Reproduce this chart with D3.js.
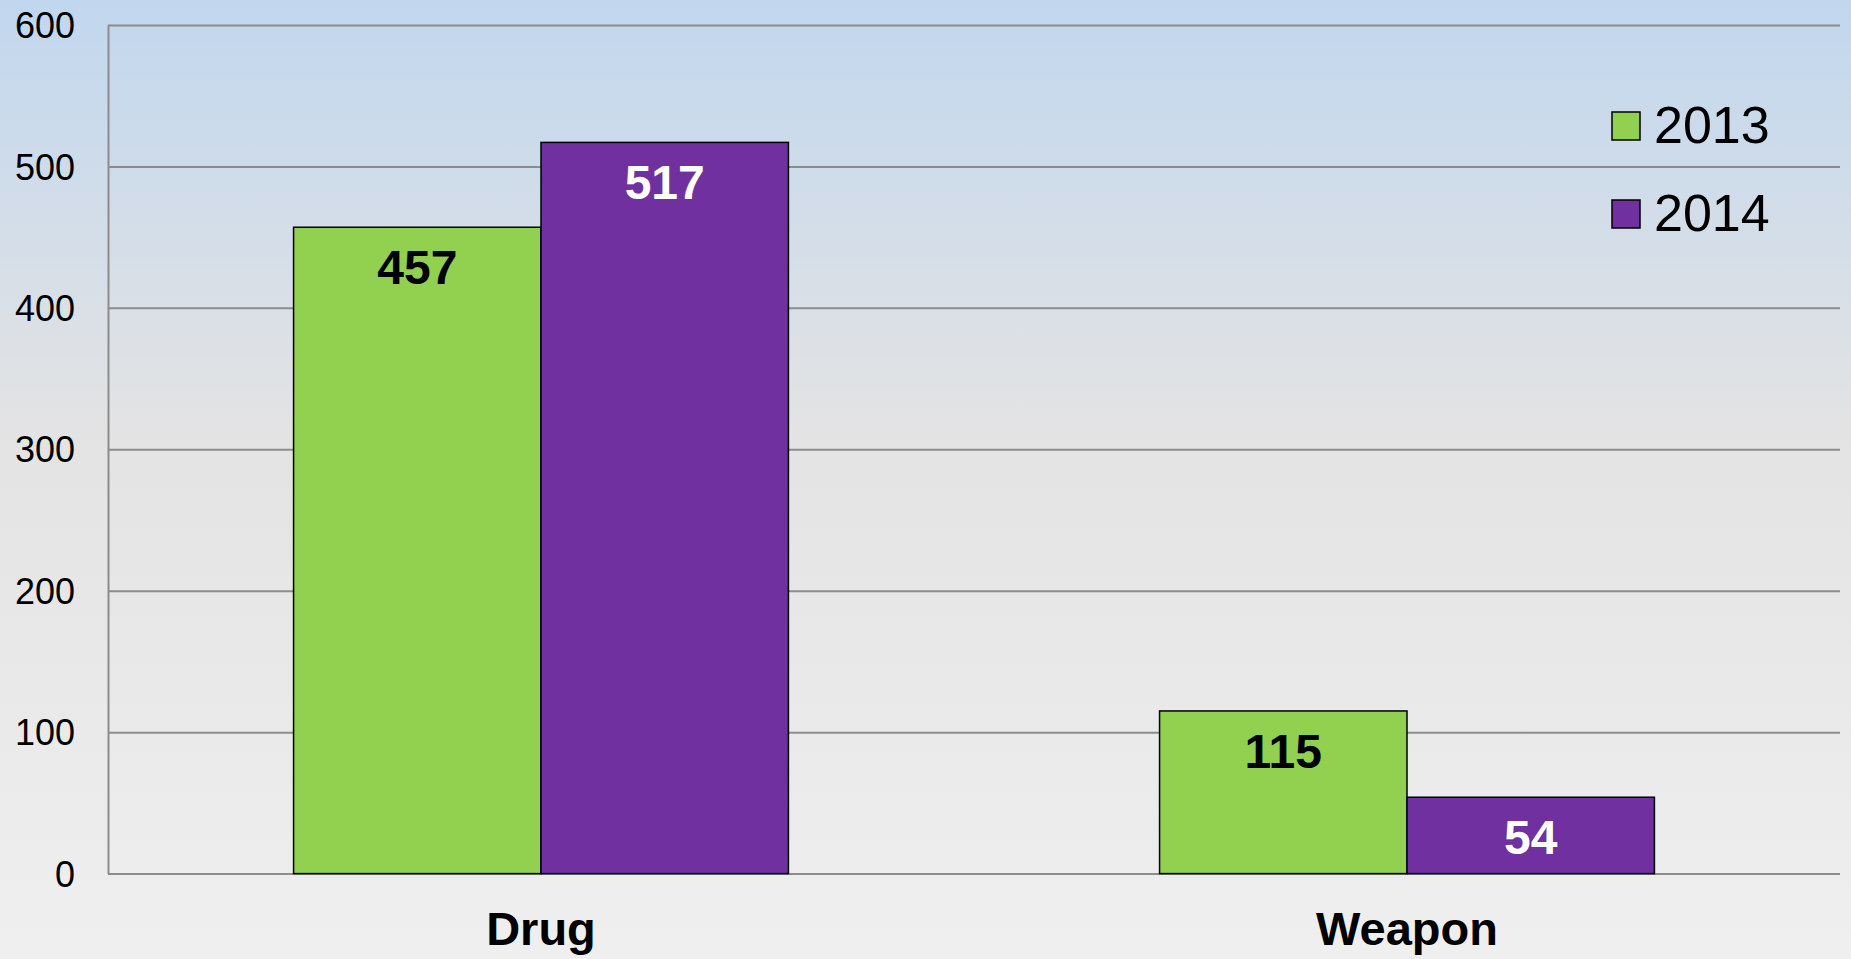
<!DOCTYPE html>
<html>
<head>
<meta charset="utf-8">
<script src="https://cdn.jsdelivr.net/npm/d3@7"></script>
<style>
  html, body { margin: 0; padding: 0; overflow: hidden; }
  svg { display: block; font-family: Arial, "Liberation Sans", sans-serif; }
</style>
</head>
<body>
<svg id="chart" width="1851" height="959"></svg>
<script>
const categories = ["Drug", "Weapon"];
const seriesNames = ["2013", "2014"];
const values2013 = [457, 115];
const values2014 = [517, 54];
const yTicks = [0, 100, 200, 300, 400, 500, 600];

const seriesColors = ["#92d050", "#7030a0"];
const labelColors = ["#000000", "#ffffff"];

const W = 1851, H = 959;
const margin = { left: 108, right: 11, top: 25, bottom: 85 };
const svg = d3.select("#chart");

const defs = svg.append("defs");
const grad = defs.append("linearGradient").attr("id", "bg").attr("x1", 0).attr("y1", 0).attr("x2", 0).attr("y2", 1);
grad.append("stop").attr("offset", "0%").attr("stop-color", "#c1d7ee");
grad.append("stop").attr("offset", "45%").attr("stop-color", "#e3e3e3");
grad.append("stop").attr("offset", "100%").attr("stop-color", "#efefef");
svg.append("rect").attr("width", W).attr("height", H).attr("fill", "url(#bg)");

const x0 = d3.scaleBand().domain(categories).range([margin.left, W - margin.right]).paddingInner(0).paddingOuter(0);
const x1 = d3.scaleBand().domain(seriesNames).range([0, x0.bandwidth()]).paddingInner(0).paddingOuter(0.75);
const y = d3.scaleLinear().domain([0, 600]).range([H - margin.bottom - 0.4, margin.top]);

// gridlines
const grid = svg.append("g").attr("class", "grid")
  .attr("transform", `translate(${margin.left},0)`)
  .call(d3.axisLeft(y).tickValues(yTicks).tickSize(-(W - margin.right - margin.left)).tickFormat(""));
grid.select(".domain").remove();
grid.selectAll("line").attr("stroke", "#8c8c8c").attr("stroke-width", 2);

// y axis
const yAxis = svg.append("g").attr("transform", `translate(${margin.left},0)`)
  .call(d3.axisLeft(y).tickValues(yTicks).tickSize(0).tickPadding(33));
yAxis.select(".domain").attr("stroke", "#8c8c8c").attr("stroke-width", 2);
yAxis.selectAll("text").attr("font-size", 36).attr("fill", "#000").attr("font-family", "Arial, 'Liberation Sans', sans-serif").attr("dy", "0.35em");

// data
const data = categories.map((c, i) => ({ cat: c, vals: [values2013[i], values2014[i]] }));

const groups = svg.append("g").selectAll("g").data(data).join("g")
  .attr("transform", d => `translate(${x0(d.cat)},0)`);

groups.selectAll("rect").data(d => d.vals.map((v, j) => ({ s: seriesNames[j], v, j })))
  .join("rect")
  .attr("x", d => x1(d.s))
  .attr("y", d => y(d.v))
  .attr("width", x1.bandwidth())
  .attr("height", d => y(0) - y(d.v))
  .attr("fill", d => seriesColors[d.j])
  .attr("stroke", "#000")
  .attr("stroke-width", 1.5);

groups.selectAll("text.val").data(d => d.vals.map((v, j) => ({ s: seriesNames[j], v, j })))
  .join("text")
  .attr("class", "val")
  .attr("x", d => x1(d.s) + x1.bandwidth() / 2)
  .attr("y", d => y(d.v) + 57)
  .attr("text-anchor", "middle")
  .attr("font-size", 48)
  .attr("font-weight", "bold")
  .attr("fill", d => labelColors[d.j])
  .text(d => d.v);

// x category labels
svg.append("g").selectAll("text").data(categories).join("text")
  .attr("x", d => x0(d) + x0.bandwidth() / 2)
  .attr("y", 945)
  .attr("text-anchor", "middle")
  .attr("font-size", 47)
  .attr("font-weight", "bold")
  .attr("fill", "#000")
  .text(d => d);

// legend
const legend = svg.append("g").attr("transform", "translate(1612,0)");
const li = legend.selectAll("g").data(seriesNames).join("g")
  .attr("transform", (d, i) => `translate(0,${112 + i * 88})`);
li.append("rect").attr("x", 0).attr("y", 0).attr("width", 28).attr("height", 28)
  .attr("fill", (d, i) => seriesColors[i]).attr("stroke", "#000").attr("stroke-width", 1.5);
li.append("text").attr("x", 42).attr("y", 31).attr("font-size", 52).attr("fill", "#000").text(d => d);
</script>
</body>
</html>
